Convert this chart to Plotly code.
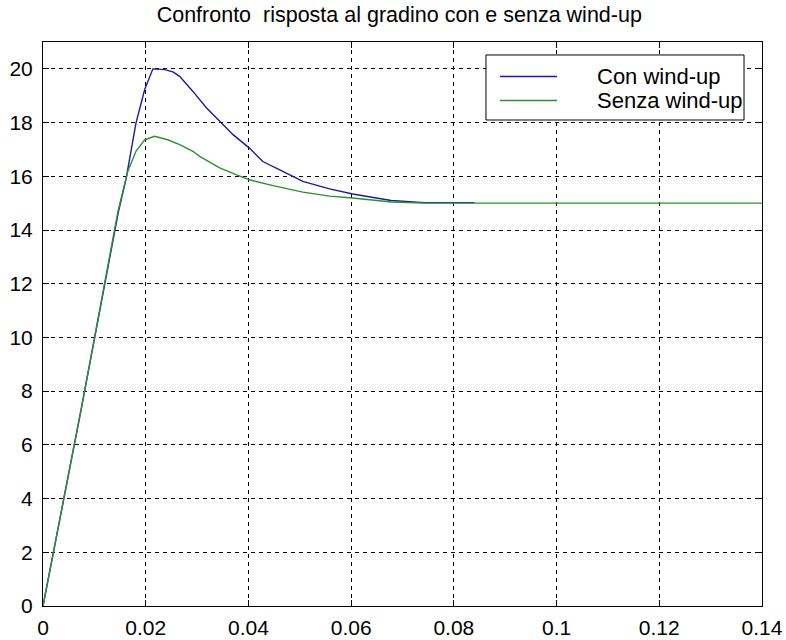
import plotly.graph_objects as go

# Step response "Con wind-up" (with wind-up)
t_con = [0.0, 0.0075, 0.0147, 0.0162, 0.0181, 0.0198, 0.0214, 0.0237, 0.0253,
         0.0266, 0.0292, 0.0318, 0.0347, 0.0370, 0.0402, 0.0428, 0.0461, 0.0506,
         0.0558, 0.0603, 0.0678, 0.0743, 0.0840]
y_con = [0.0, 7.4, 14.69, 15.93, 17.98, 19.23, 20.0, 19.97, 19.89,
         19.72, 19.16, 18.55, 17.99, 17.55, 17.05, 16.55, 16.24, 15.81,
         15.53, 15.34, 15.10, 15.02, 15.02]

# Step response "Senza wind-up" (without wind-up)
t_senza = [0.0, 0.0075, 0.0146, 0.0165, 0.0181, 0.0198, 0.0217, 0.0243, 0.0266,
           0.0292, 0.0305, 0.0344, 0.0376, 0.0402, 0.0448, 0.0506, 0.0558,
           0.0603, 0.0678, 0.0743, 0.0900, 0.1100, 0.1400]
y_senza = [0.0, 7.4, 14.69, 16.18, 16.93, 17.36, 17.49, 17.36, 17.18,
           16.93, 16.74, 16.31, 16.06, 15.87, 15.65, 15.41, 15.26,
           15.19, 15.04, 15.0, 15.0, 15.0, 15.0]

x_ticks = [0, 0.02, 0.04, 0.06, 0.08, 0.1, 0.12, 0.14]
x_tick_labels = ["0", "0.02", "0.04", "0.06", "0.08", "0.1", "0.12", "0.14"]
y_ticks = [0, 2, 4, 6, 8, 10, 12, 14, 16, 18, 20]
y_tick_labels = [str(v) for v in y_ticks]

title_text = "Confronto  risposta al gradino con e senza wind-up"
names = ["Con wind-up", "Senza wind-up"]
colors = ["#1a1aa5", "#2f8f2f"]

FONT = "Arial, Liberation Sans, sans-serif"

fig = go.Figure()
fig.add_trace(go.Scatter(x=t_con, y=y_con, mode="lines", name=names[0],
                         line=dict(color=colors[0], width=1.4)))
fig.add_trace(go.Scatter(x=t_senza, y=y_senza, mode="lines", name=names[1],
                         line=dict(color=colors[1], width=1.4)))

axis_common = dict(
    showline=True, linecolor="black", linewidth=1, mirror="ticks",
    ticks="inside", ticklen=6, tickcolor="black", tickwidth=1,
    showgrid=True, gridcolor="black", gridwidth=1, griddash="4px,4px",
    zeroline=False, automargin=False,
    tickfont=dict(family=FONT, size=21, color="black"),
)

fig.update_xaxes(range=[0, 0.14], tickvals=x_ticks, ticktext=x_tick_labels,
                 ticklabelstandoff=3, **axis_common)
fig.update_yaxes(range=[0, 21], tickvals=y_ticks, ticktext=y_tick_labels,
                 ticklabelstandoff=5, **axis_common)

# Legend box drawn in paper coordinates (MATLAB-style legend)
leg_x0, leg_x1, leg_y0, leg_y1 = 0.6161, 0.975, 0.8617, 0.977
line_x0, line_x1 = 0.6356, 0.7149
text_x = 0.7677
row_y = [0.9388, 0.8963]

shapes = [dict(type="rect", xref="paper", yref="paper",
               x0=leg_x0, x1=leg_x1, y0=leg_y0, y1=leg_y1,
               line=dict(color="black", width=1), fillcolor="white", layer="above")]
annotations = []
for name, col, yy in zip(names, colors, row_y):
    shapes.append(dict(type="line", xref="paper", yref="paper",
                       x0=line_x0, x1=line_x1, y0=yy, y1=yy,
                       line=dict(color=col, width=1.6), layer="above"))
    annotations.append(dict(text=name, xref="paper", yref="paper", x=text_x, y=yy,
                            xanchor="left", yanchor="middle", showarrow=False,
                            font=dict(family=FONT, size=22, color="black")))

fig.update_layout(
    width=786, height=640,
    margin=dict(l=43, r=24, t=42, b=34),
    paper_bgcolor="white", plot_bgcolor="white",
    title=dict(text=title_text, x=0.508, xanchor="center", y=0.977, yanchor="middle",
               yref="container",
               font=dict(family=FONT, size=21.5, color="black")),
    showlegend=False,
    shapes=shapes,
    annotations=annotations,
)

fig.write_html("out.html",
               config={"displayModeBar": False},
               post_script="document.body.style.margin='0';document.body.style.overflow='hidden';")
